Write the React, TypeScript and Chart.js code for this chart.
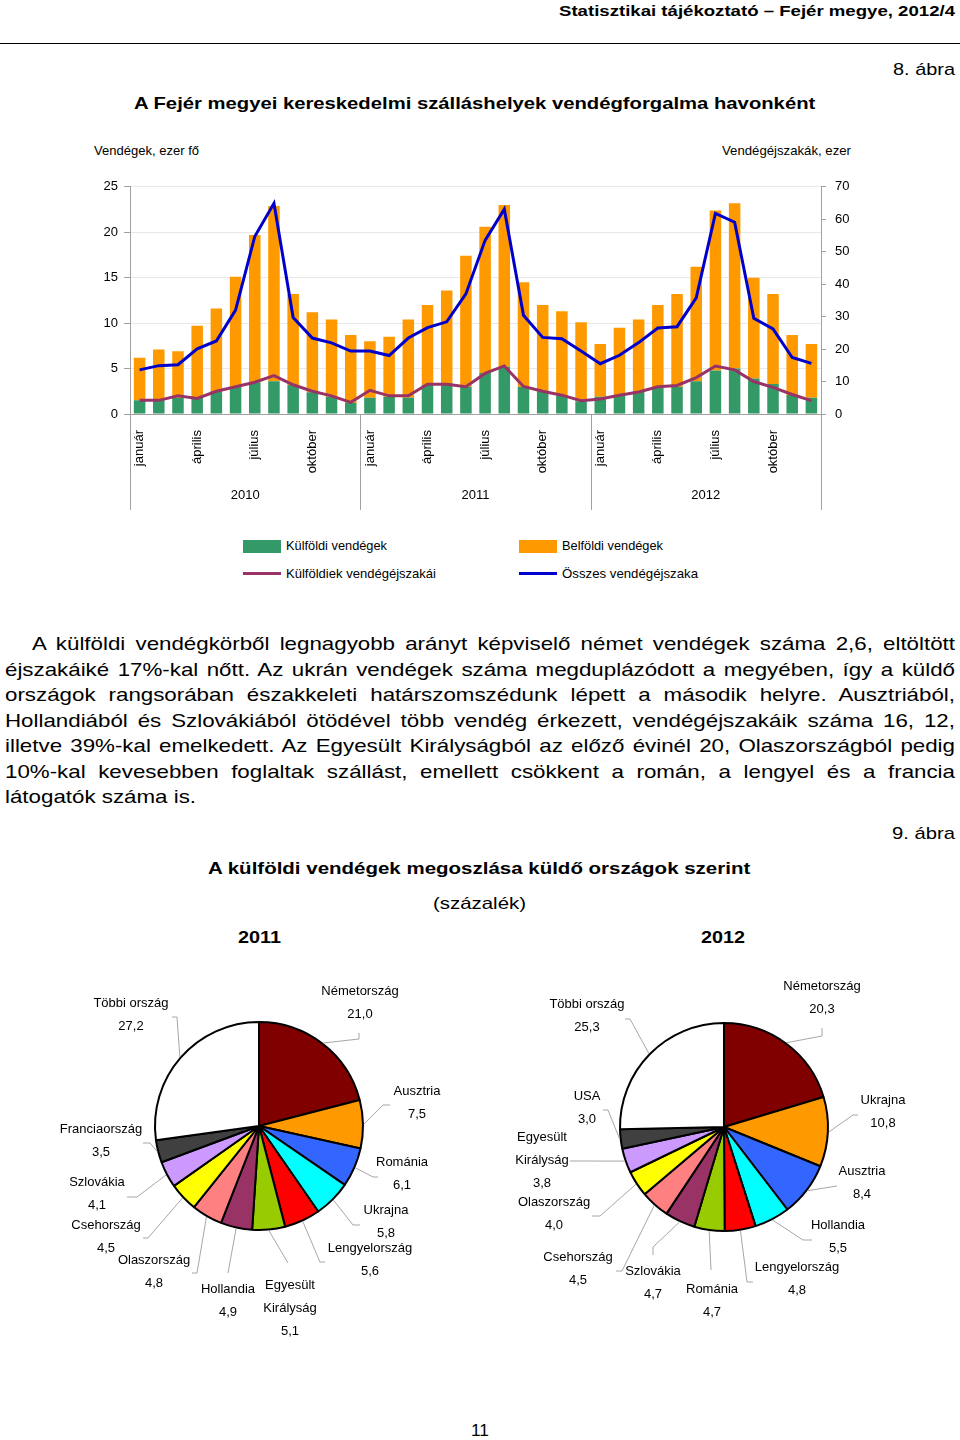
import React, { useEffect, useRef } from "react";
import { Chart, registerables } from "chart.js";

Chart.register(...registerables);
const FONT = 'Arial, "Liberation Sans", sans-serif';
Chart.defaults.font.family = FONT;

// ---------------- DATA ----------------
const YEARS = ["2010", "2011", "2012"];
const MONTHS = ["január", "február", "március", "április", "május", "június", "július", "augusztus", "szeptember", "október", "november", "december"];
const MONTH_TICK_LABELS = ["január", "", "", "április", "", "", "július", "", "", "október", "", ""];
const CATEGORIES = YEARS.flatMap((y) => MONTHS.map((m) => `${y}. ${m}`));

// Vendégek, ezer fő (left axis)
const FOREIGN_GUESTS = [1.5, 1.5, 1.8, 1.8, 2.5, 3.0, 3.5, 3.6, 3.2, 2.4, 1.9, 1.2, 1.8, 1.9, 1.8, 3.2, 3.4, 3.0, 4.5, 5.2, 3.0, 2.5, 2.1, 1.4, 1.9, 2.1, 2.5, 2.9, 3.0, 3.6, 4.8, 5.0, 3.9, 3.3, 2.1, 1.8];
const DOMESTIC_GUESTS = [4.7, 5.6, 5.1, 7.9, 9.1, 12.1, 16.2, 19.3, 10.0, 8.8, 8.5, 7.5, 6.2, 6.6, 8.6, 8.8, 10.2, 14.4, 16.1, 17.8, 11.5, 9.5, 9.2, 8.7, 5.8, 7.4, 7.9, 9.1, 10.2, 12.6, 17.6, 18.2, 11.1, 9.9, 6.6, 5.9];
// Vendégéjszakák, ezer (right axis)
const FOREIGN_NIGHTS = [4.2, 4.2, 5.6, 4.8, 7.0, 8.4, 9.8, 11.8, 9.0, 7.0, 5.6, 3.6, 7.3, 5.6, 5.6, 9.2, 9.2, 8.4, 12.5, 14.8, 8.5, 7.0, 5.8, 4.1, 4.6, 5.8, 6.8, 8.4, 8.8, 11.2, 14.8, 13.6, 10.0, 8.2, 6.0, 4.1];
const TOTAL_NIGHTS = [13.6, 14.9, 15.2, 20.1, 22.5, 32.0, 54.7, 64.9, 29.7, 23.4, 21.9, 19.4, 19.4, 18.0, 23.4, 26.6, 28.4, 37.0, 53.5, 63.1, 30.4, 23.6, 23.2, 19.4, 15.5, 18.1, 22.0, 26.5, 26.9, 35.8, 61.8, 59.1, 29.5, 26.2, 17.4, 15.6];

const PIE_2011_LABELS = ["Németország", "Ausztria", "Románia", "Ukrajna", "Lengyelország", "Egyesült\nKirályság", "Hollandia", "Olaszország", "Csehország", "Szlovákia", "Franciaország", "Többi ország"];
const PIE_2011_VALUES = [21.0, 7.5, 6.1, 5.8, 5.6, 5.1, 4.9, 4.8, 4.5, 4.1, 3.5, 27.2];
const PIE_2012_LABELS = ["Németország", "Ukrajna", "Ausztria", "Hollandia", "Lengyelország", "Románia", "Szlovákia", "Csehország", "Olaszország", "Egyesült\nKirályság", "USA", "Többi ország"];
const PIE_2012_VALUES = [20.3, 10.8, 8.4, 5.5, 4.8, 4.7, 4.7, 4.5, 4.0, 3.8, 3.0, 25.3];
const SLICE_COLORS = ["#800000", "#FF9900", "#3366FF", "#00FFFF", "#FF0000", "#99CC00", "#993366", "#FF8080", "#FFFF00", "#CC99FF", "#404040", "#FFFFFF"];

const PARAGRAPH_LINES = [
  "A külföldi vendégkörből legnagyobb arányt képviselő német vendégek száma 2,6, eltöltött",
  "éjszakáiké 17%-kal nőtt. Az ukrán vendégek száma megduplázódott a megyében, így a küldő",
  "országok rangsorában északkeleti határszomszédunk lépett a második helyre. Ausztriából,",
  "Hollandiából és Szlovákiából ötödével több vendég érkezett, vendégéjszakáik száma 16, 12,",
  "illetve 39%-kal emelkedett. Az Egyesült Királyságból az előző évinél 20, Olaszországból pedig",
  "10%-kal kevesebben foglaltak szállást, emellett csökkent a román, a lengyel és a francia",
  "látogatók száma is.",
];

// ---------------- LAYOUT (label placement relative to pie centre) ----------------
type LabelLayout = { text: [number, number]; path: [number, number][] };
const PIE_2011_LAYOUT: LabelLayout[] = [
  { text: [101, -135], path: [[100, -87], [100, -93]] },
  { text: [158, -35], path: [[124, -21], [131, -21]] },
  { text: [143, 36], path: [[114, 51], [119, 51]] },
  { text: [127, 84], path: [[94, 99], [101, 99]] },
  { text: [111, 122], path: [[61, 136], [66, 136]] },
  { text: [31, 159], path: [[29, 137]] },
  { text: [-31, 163], path: [[-31, 147]] },
  { text: [-105, 134], path: [[-62, 147], [-67, 147]] },
  { text: [-153, 99], path: [[-111, 112], [-116, 112]] },
  { text: [-162, 56], path: [[-122, 71], [-132, 71]] },
  { text: [-158, 3], path: [[-109, 17], [-116, 17]] },
  { text: [-128, -123], path: [[-82, -109], [-87, -109]] },
];
const PIE_2012_LAYOUT: LabelLayout[] = [
  { text: [98, -141], path: [[98, -91], [98, -99]] },
  { text: [159, -27], path: [[129, -12], [134, -12]] },
  { text: [138, 44], path: [[113, 59]] },
  { text: [114, 98], path: [[79, 113], [88, 113]] },
  { text: [73, 140], path: [[23, 155], [29, 155]] },
  { text: [-12, 162], path: [[-13, 143]] },
  { text: [-71, 144], path: [[-71, 120], [-71, 128]] },
  { text: [-146, 130], path: [[-102, 144], [-108, 144]] },
  { text: [-170, 75], path: [[-124, 89], [-132, 89]] },
  { text: [-182, 10], path: [[-154, 34]] },
  { text: [-137, -31], path: [[-116, -17], [-121, -17]] },
  { text: [-137, -123], path: [[-94, -108], [-99, -108]] },
];

// ---------------- helpers ----------------
let measureCtx: CanvasRenderingContext2D | null = null;
function measure(text: string, font: string) {
  if (!measureCtx) measureCtx = document.createElement("canvas").getContext("2d");
  measureCtx!.font = font;
  return measureCtx!.measureText(text).width;
}

function Txt({ x1, x2, cy, size, bold, children }: { x1: number; x2: number; cy: number; size: number; bold?: boolean; children: string }) {
  const font = `${bold ? "bold " : ""}${size}px ${FONT}`;
  const w = measure(children, font);
  const sx = (x2 - x1) / w;
  return (
    <div
      style={{
        position: "absolute",
        left: x1,
        top: cy - size * 0.59,
        fontFamily: FONT,
        fontSize: size,
        fontWeight: bold ? "bold" : "normal",
        lineHeight: `${size * 1.2}px`,
        whiteSpace: "nowrap",
        color: "#000",
        transform: `scaleX(${sx})`,
        transformOrigin: "left top",
      }}
    >
      {children}
    </div>
  );
}

const fmt = (v: number) => v.toFixed(1).replace(".", ",");

// ---------------- monthly chart ----------------
const xAxisGroupsPlugin = {
  id: "xAxisGroups",
  afterDraw(chart: any) {
    const { ctx, chartArea, scales } = chart;
    const { left, right, bottom } = chartArea;
    const x = scales.x;
    const n = MONTHS.length;
    ctx.save();
    ctx.strokeStyle = "#a0a0a0";
    ctx.lineWidth = 1;
    ctx.beginPath();
    ctx.moveTo(left, bottom + 0.5);
    ctx.lineTo(right, bottom + 0.5);
    ctx.stroke();
    const seps: number[] = [];
    for (let g = 0; g <= YEARS.length; g++) {
      let px;
      if (g === 0) px = left;
      else if (g === YEARS.length) px = right;
      else px = (x.getPixelForValue(g * n - 1) + x.getPixelForValue(g * n)) / 2;
      seps.push(px);
      ctx.beginPath();
      ctx.moveTo(Math.round(px) + 0.5, bottom);
      ctx.lineTo(Math.round(px) + 0.5, bottom + 96);
      ctx.stroke();
    }
    ctx.fillStyle = "#000";
    ctx.font = `13px ${FONT}`;
    CATEGORIES.forEach((_c, i) => {
      const lab = MONTH_TICK_LABELS[i % n];
      if (!lab) return;
      ctx.save();
      ctx.translate(x.getPixelForValue(i), bottom + 16);
      ctx.rotate(-Math.PI / 2);
      ctx.textAlign = "right";
      ctx.textBaseline = "middle";
      ctx.fillText(lab, 0, 0);
      ctx.restore();
    });
    ctx.textAlign = "center";
    ctx.textBaseline = "middle";
    YEARS.forEach((yr, g) => {
      ctx.fillText(yr, (seps[g] + seps[g + 1]) / 2, bottom + 81);
    });
    ctx.restore();
  },
};

function MonthlyChart() {
  const ref = useRef<HTMLCanvasElement>(null);
  useEffect(() => {
    const chart = new Chart(ref.current!, {
      type: "bar",
      data: {
        labels: CATEGORIES,
        datasets: [
          { type: "line", label: "Összes vendégéjszaka", data: TOTAL_NIGHTS, yAxisID: "y1", borderColor: "#0000CC", borderWidth: 3, pointRadius: 0, tension: 0, order: 0 } as any,
          { type: "line", label: "Külföldiek vendégéjszakái", data: FOREIGN_NIGHTS, yAxisID: "y1", borderColor: "#993366", borderWidth: 3, pointRadius: 0, tension: 0, order: 1 } as any,
          { label: "Külföldi vendégek", data: FOREIGN_GUESTS, backgroundColor: "#339966", yAxisID: "y", order: 2, barPercentage: 0.6, categoryPercentage: 1 },
          { label: "Belföldi vendégek", data: DOMESTIC_GUESTS, backgroundColor: "#FF9900", yAxisID: "y", order: 2, barPercentage: 0.6, categoryPercentage: 1 },
        ],
      },
      options: {
        animation: false,
        responsive: false,
        maintainAspectRatio: false,
        layout: { padding: { top: 13, bottom: 116, left: 0, right: 0 } },
        plugins: { legend: { display: false }, tooltip: { enabled: false } },
        scales: {
          x: { display: false, stacked: true, offset: true },
          y: {
            position: "left",
            stacked: true,
            min: 0,
            max: 25,
            ticks: { stepSize: 5, color: "#000", font: { size: 13 }, padding: 6 },
            grid: { color: "#e8e8e8", tickColor: "#a0a0a0", tickLength: 6 },
            border: { display: true, color: "#a0a0a0" },
            afterFit: (s: any) => { s.width = 130; },
          },
          y1: {
            position: "right",
            min: 0,
            max: 70,
            ticks: { stepSize: 10, color: "#000", font: { size: 13 }, padding: 9 },
            grid: { drawOnChartArea: false, tickColor: "#a0a0a0", tickLength: 5 },
            border: { display: true, color: "#a0a0a0" },
            afterFit: (s: any) => { s.width = 139; },
          },
        },
      } as any,
      plugins: [xAxisGroupsPlugin],
    });
    return () => chart.destroy();
  }, []);
  return <canvas ref={ref} width={960} height={360} style={{ position: "absolute", left: 0, top: 170, width: 960, height: 360 }} />;
}

// ---------------- pies ----------------
function makePieLabelPlugin(layout: LabelLayout[]) {
  return {
    id: "pieLabels",
    afterDraw(chart: any) {
      const { ctx } = chart;
      const labels = chart.data.labels as string[];
      const values = chart.data.datasets[0].data as number[];
      const meta = chart.getDatasetMeta(0);
      ctx.save();
      meta.data.forEach((arc: any, i: number) => {
        const { x, y, startAngle, endAngle, outerRadius } = arc.getProps(["x", "y", "startAngle", "endAngle", "outerRadius"], true);
        const mid = (startAngle + endAngle) / 2;
        const L = layout[i];
        ctx.strokeStyle = "#a6a6a6";
        ctx.lineWidth = 1;
        ctx.beginPath();
        ctx.moveTo(x + Math.cos(mid) * (outerRadius + 1), y + Math.sin(mid) * (outerRadius + 1));
        L.path.forEach(([dx, dy]) => ctx.lineTo(x + dx, y + dy));
        ctx.stroke();
        const lines = String(labels[i]).split("\n").concat(fmt(values[i]));
        ctx.fillStyle = "#000";
        ctx.font = `13px ${FONT}`;
        ctx.textAlign = "center";
        ctx.textBaseline = "middle";
        lines.forEach((t, k) => ctx.fillText(t, x + L.text[0], y + L.text[1] + k * 23.3));
      });
      ctx.restore();
    },
  };
}

function Pie({ labels, values, layout, left, top, padding }: { labels: string[]; values: number[]; layout: LabelLayout[]; left: number; top: number; padding: any }) {
  const ref = useRef<HTMLCanvasElement>(null);
  useEffect(() => {
    const chart = new Chart(ref.current!, {
      type: "pie",
      data: {
        labels,
        datasets: [{ data: values, backgroundColor: SLICE_COLORS, borderColor: "#000", borderWidth: 2, radius: 104 } as any],
      },
      options: {
        animation: false,
        responsive: false,
        maintainAspectRatio: false,
        layout: { padding },
        plugins: { legend: { display: false }, tooltip: { enabled: false } },
      } as any,
      plugins: [makePieLabelPlugin(layout)],
    });
    return () => chart.destroy();
  }, []);
  return <canvas ref={ref} width={480} height={400} style={{ position: "absolute", left, top, width: 480, height: 400 }} />;
}

// ---------------- page ----------------
export default function App() {
  const pSize = 18.6;
  const pFont = `${pSize}px ${FONT}`;
  return (
    <div style={{ position: "absolute", left: 0, top: 0, width: 960, height: 1440, background: "#fff", overflow: "hidden", fontFamily: FONT, color: "#000" }}>
      <Txt x1={559} x2={955} cy={11} size={15.5} bold>Statisztikai tájékoztató – Fejér megye, 2012/4</Txt>
      <div style={{ position: "absolute", left: 0, top: 43, width: 960, height: 1, background: "#000" }} />
      <Txt x1={893} x2={955} cy={70} size={17}>8. ábra</Txt>
      <Txt x1={134} x2={816} cy={104} size={16.5} bold>A Fejér megyei kereskedelmi szálláshelyek vendégforgalma havonként</Txt>
      <Txt x1={94} x2={199} cy={151} size={13.5}>Vendégek, ezer fő</Txt>
      <Txt x1={722} x2={851} cy={151} size={13.5}>Vendégéjszakák, ezer</Txt>

      <MonthlyChart />

      {/* legend */}
      <div style={{ position: "absolute", left: 243, top: 540, width: 38, height: 13, background: "#339966" }} />
      <div style={{ position: "absolute", left: 519, top: 540, width: 38, height: 13, background: "#FF9900" }} />
      <div style={{ position: "absolute", left: 243, top: 572, width: 38, height: 3, background: "#993366" }} />
      <div style={{ position: "absolute", left: 519, top: 572, width: 38, height: 3, background: "#0000CC" }} />
      <Txt x1={286} x2={387} cy={546} size={13.5}>Külföldi vendégek</Txt>
      <Txt x1={562} x2={663} cy={546} size={13.5}>Belföldi vendégek</Txt>
      <Txt x1={286} x2={436} cy={574} size={13.5}>Külföldiek vendégéjszakái</Txt>
      <Txt x1={562} x2={698} cy={574} size={13.5}>Összes vendégéjszaka</Txt>

      {/* paragraph */}
      {PARAGRAPH_LINES.map((line, i) => {
        const last = i === PARAGRAPH_LINES.length - 1;
        const x1 = i === 0 ? 32 : 5;
        const x2 = 955;
        const w = measure(line, pFont);
        const s = last ? 1.2 : Math.min(1.2, (x2 - x1) / w);
        const boxW = last ? w + 2 : (x2 - x1) / s;
        return (
          <div
            key={i}
            style={{
              position: "absolute",
              left: x1,
              top: 644 + i * 25.5 - pSize * 0.59,
              width: boxW,
              fontFamily: FONT,
              fontSize: pSize,
              lineHeight: `${pSize * 1.2}px`,
              whiteSpace: "nowrap",
              textAlign: last ? "left" : "justify",
              textAlignLast: last ? "left" : "justify",
              transform: `scaleX(${s})`,
              transformOrigin: "left top",
            } as any}
          >
            {line}
          </div>
        );
      })}

      <Txt x1={892} x2={955} cy={834} size={17}>9. ábra</Txt>
      <Txt x1={208} x2={751} cy={869} size={16.5} bold>A külföldi vendégek megoszlása küldő országok szerint</Txt>
      <Txt x1={433} x2={526} cy={904} size={16.5}>(százalék)</Txt>
      <Txt x1={238} x2={281} cy={938} size={16.5} bold>2011</Txt>
      <Txt x1={701} x2={745} cy={938} size={16.5} bold>2012</Txt>

      <Pie labels={PIE_2011_LABELS} values={PIE_2011_VALUES} layout={PIE_2011_LAYOUT} left={0} top={960} padding={{ left: 38, right: 0, top: 0, bottom: 68 }} />
      <Pie labels={PIE_2012_LABELS} values={PIE_2012_VALUES} layout={PIE_2012_LAYOUT} left={480} top={960} padding={{ left: 8, right: 0, top: 0, bottom: 66 }} />

      <Txt x1={471} x2={489} cy={1431} size={17}>11</Txt>
    </div>
  );
}
